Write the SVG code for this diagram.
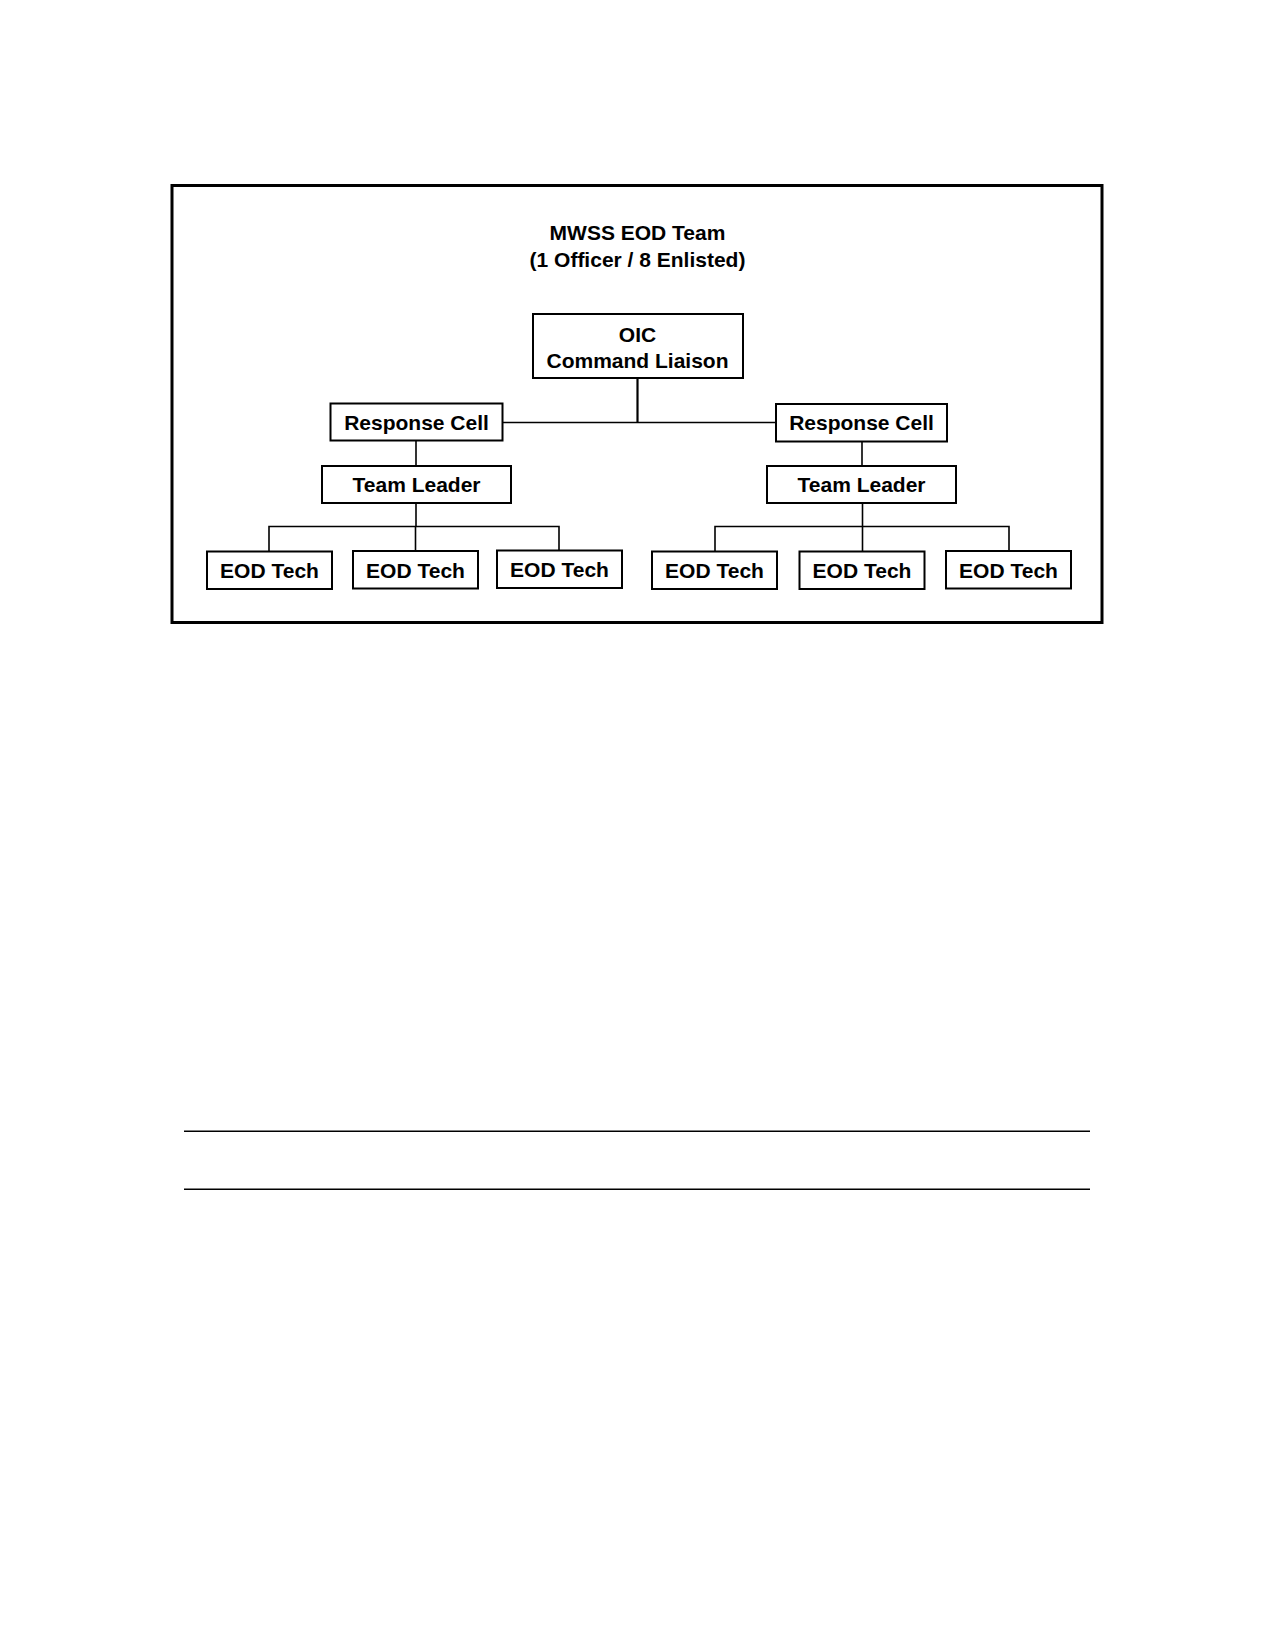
<svg xmlns="http://www.w3.org/2000/svg" width="1275" height="1650" viewBox="0 0 1275 1650">
<style>
.box{fill:#fff;stroke:#000;stroke-width:2}
.t{font-family:"Liberation Sans",Arial,sans-serif;font-weight:bold;font-size:21px;fill:#000;text-anchor:middle}
.c{fill:none;stroke:#000;stroke-width:1.6}
</style>
<rect width="1275" height="1650" fill="#fff"/>
<rect x="172" y="185.5" width="930" height="437" fill="none" stroke="#000" stroke-width="3"/>
<g id="title">
<text class="t" x="637.5" y="240">MWSS EOD Team</text>
<text class="t" x="637.5" y="267">(1 Officer / 8 Enlisted)</text>
</g>
<g id="connectors">
<line x1="637.5" y1="378" x2="637.5" y2="422.5" stroke="#000" stroke-width="2.2"/>
<polyline class="c" points="502,422.5 776,422.5"/>
<line class="c" x1="416" y1="441" x2="416" y2="466"/>
<line class="c" x1="862" y1="442" x2="862" y2="466"/>
<line class="c" x1="416" y1="503" x2="416" y2="526.5"/>
<polyline class="c" points="269,551 269,526.5 559,526.5 559,551"/>
<line class="c" x1="415.5" y1="526.5" x2="415.5" y2="551"/>
<line class="c" x1="862.5" y1="503" x2="862.5" y2="526.5"/>
<polyline class="c" points="715,551 715,526.5 1009,526.5 1009,551"/>
<line class="c" x1="862.5" y1="526.5" x2="862.5" y2="551"/>
</g>
<g id="oic">
<rect class="box" x="533" y="314" width="210" height="64"/>
<text class="t" x="637.5" y="341.5">OIC</text>
<text class="t" x="637.5" y="368">Command Liaison</text>
</g>
<g id="resp-left">
<rect class="box" x="330.5" y="403.5" width="172" height="37"/>
<text class="t" x="416.5" y="429.5">Response Cell</text>
</g>
<g id="resp-right">
<rect class="box" x="776" y="404" width="171" height="37.5"/>
<text class="t" x="861.5" y="430">Response Cell</text>
</g>
<g id="tl-left">
<rect class="box" x="322" y="466" width="189" height="37"/>
<text class="t" x="416.5" y="491.5">Team Leader</text>
</g>
<g id="tl-right">
<rect class="box" x="767" y="466" width="189" height="37"/>
<text class="t" x="861.5" y="492">Team Leader</text>
</g>
<g id="eod1">
<rect class="box" x="207" y="551.5" width="125" height="37.5"/>
<text class="t" x="269.5" y="577.5">EOD Tech</text>
</g>
<g id="eod2">
<rect class="box" x="353" y="551" width="125" height="37.5"/>
<text class="t" x="415.5" y="577.5">EOD Tech</text>
</g>
<g id="eod3">
<rect class="box" x="497" y="550.5" width="125" height="37.5"/>
<text class="t" x="559.5" y="576.5">EOD Tech</text>
</g>
<g id="eod4">
<rect class="box" x="652" y="551.5" width="125" height="37.5"/>
<text class="t" x="714.5" y="577.5">EOD Tech</text>
</g>
<g id="eod5">
<rect class="box" x="799.5" y="551.5" width="125" height="37.5"/>
<text class="t" x="862" y="577.5">EOD Tech</text>
</g>
<g id="eod6">
<rect class="box" x="946" y="551" width="125" height="37.5"/>
<text class="t" x="1008.5" y="577.5">EOD Tech</text>
</g>
<line x1="184" y1="1131.3" x2="1090" y2="1131.3" stroke="#000" stroke-width="1.5"/>
<line x1="184" y1="1189.3" x2="1090" y2="1189.3" stroke="#000" stroke-width="1.5"/>
</svg>
